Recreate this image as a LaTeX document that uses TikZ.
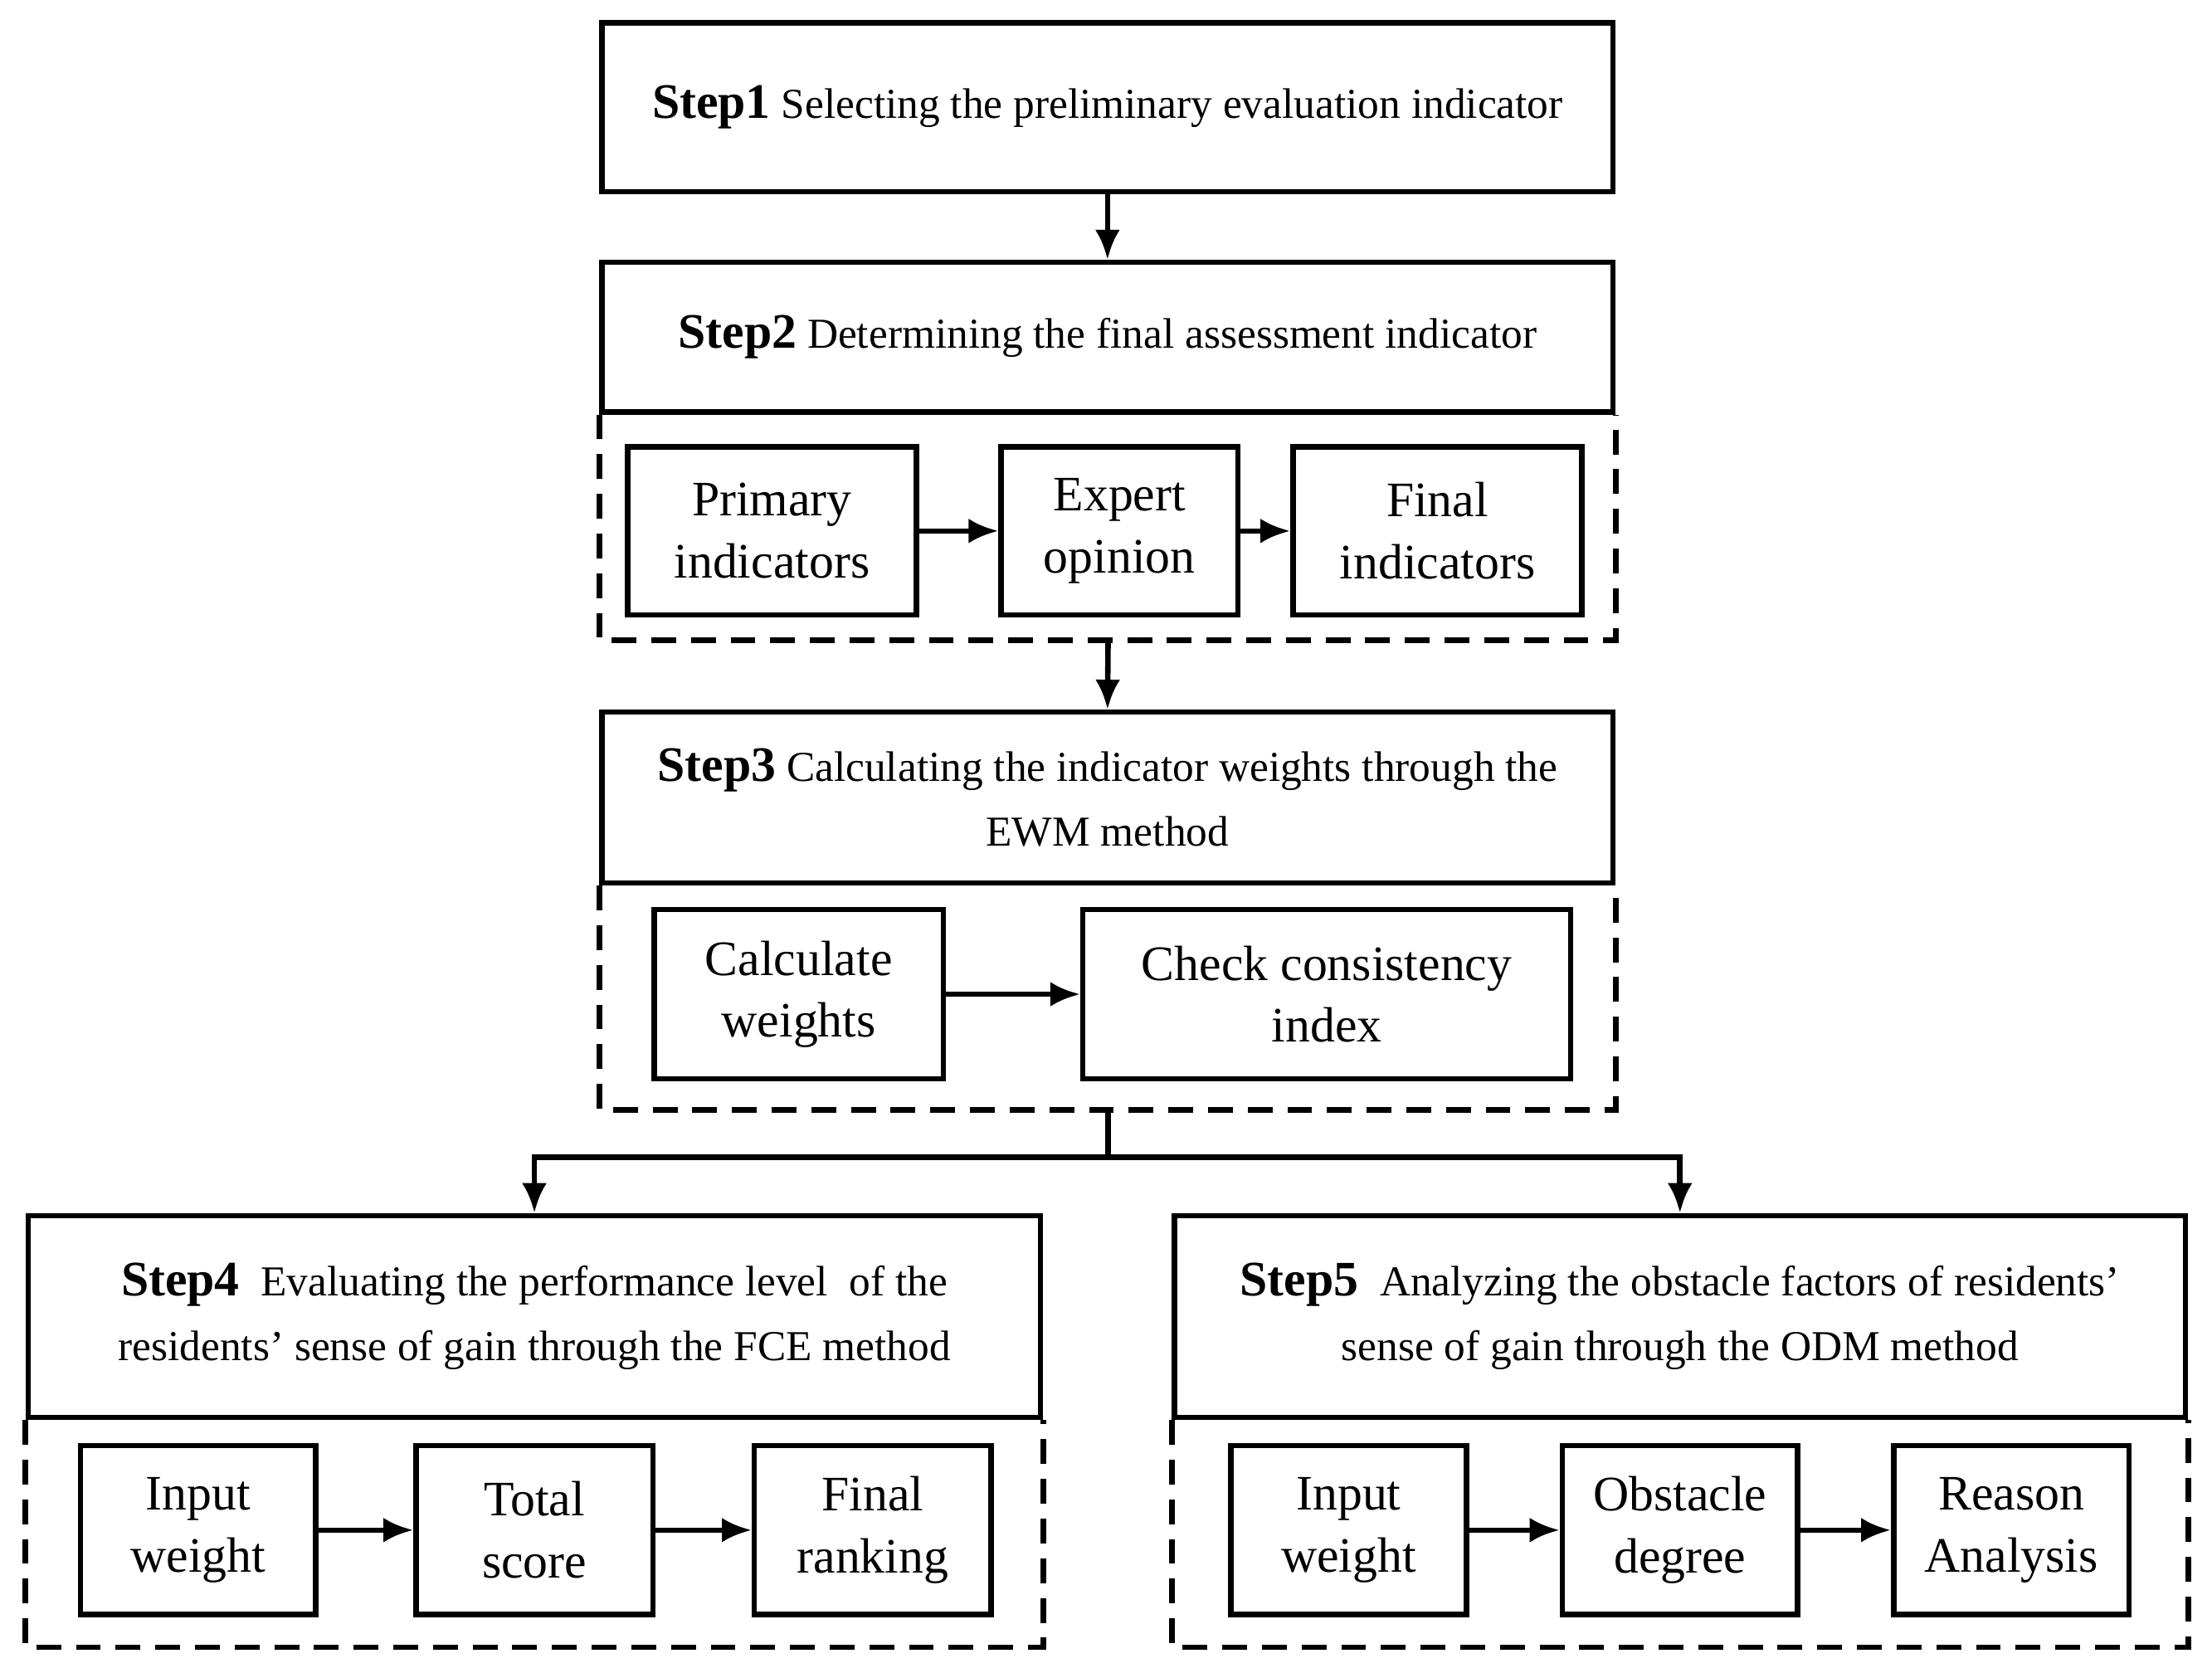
\documentclass[tikz,border=0pt]{standalone}
\usepackage{fontspec}
\setmainfont{Liberation Serif}
\usetikzlibrary{arrows.meta,positioning,calc}

\tikzset{
  head/.style={draw,line width=1.1pt,inner sep=0pt,align=center,
               font=\fontsize{8.6}{13}\selectfont},
  item/.style={draw,line width=1.1pt,inner sep=0pt,align=center,
               font=\fontsize{10}{12.5}\selectfont},
  frame/.style={line width=1.1pt,dash pattern=on 5pt off 3pt},
  link/.style={-{Latex[length=6pt,width=5pt]},line width=1.1pt}
}
% box at corners (x1,y1) to (x2,y2)
\newcommand{\stepbox}[6][head]{%
  \node[#1,minimum width={(#4-#2)*0.01cm},minimum height={(#5-#3)*0.01cm}]
    (#6) at ({(#2+#4)/2*0.01},{-(#3+#5)/2*0.01}) }

\begin{document}
\begin{tikzpicture}
\useasboundingbox (0,0) rectangle (15.68,-11.82);
%
\stepbox{427}{16}{1144}{136}{s1} {\textbf{\fontsize{10}{13}\selectfont Step1}\ Selecting the preliminary evaluation indicator};
%
\stepbox{427}{186}{1144}{292}{s2} {\textbf{\fontsize{10}{13}\selectfont Step2}\ Determining the final assessment indicator};
\draw[frame] (s2.south west) -- ++(0,-1.6) -| (s2.south east);
\stepbox[item]{445}{317}{650}{436}{pri} {Primary\\indicators};
\stepbox[item]{710}{317}{878}{436}{exp} {Expert\\opinion};
\stepbox[item]{917}{317}{1122}{436}{fin} {Final\\indicators};
\draw[link] (pri) -- (exp);
\draw[link] (exp) -- (fin);
%
\stepbox{427}{505}{1144}{626}{s3} {\textbf{\fontsize{10}{13}\selectfont Step3}\ Calculating the indicator weights through the\\EWM method};
\draw[frame] (s3.south west) -- ++(0,-1.59) -| (s3.south east);
\stepbox[item]{464}{645}{669}{765}{cal} {Calculate\\weights};
\stepbox[item]{768}{645}{1114}{765}{chk} {Check consistency\\index};
\draw[link] (cal) -- (chk);
%
\stepbox{20}{862}{738}{1005}{s4} {\textbf{\fontsize{10}{13}\selectfont Step4}\ \ Evaluating the performance level \ of the\\residents' sense of gain through the FCE method};
\draw[frame] (s4.south west) -- ++(0,-1.61) -| (s4.south east);
\stepbox[item]{57}{1025}{224}{1145}{inA} {Input\\weight};
\stepbox[item]{295}{1025}{463}{1145}{tot} {Total\\score};
\stepbox[item]{535}{1025}{703}{1145}{rnk} {Final\\ranking};
\draw[link] (inA) -- (tot);
\draw[link] (tot) -- (rnk);
%
\stepbox{833}{862}{1550}{1005}{s5} {\textbf{\fontsize{10}{13}\selectfont Step5}\ \ Analyzing the obstacle factors of residents'\\sense of gain through the ODM method};
\draw[frame] (s5.south west) -- ++(0,-1.61) -| (s5.south east);
\stepbox[item]{873}{1025}{1040}{1145}{inB} {Input\\weight};
\stepbox[item]{1108}{1025}{1275}{1145}{obs} {Obstacle\\degree};
\stepbox[item]{1343}{1025}{1510}{1145}{rea} {Reason\\Analysis};
\draw[link] (inB) -- (obs);
\draw[link] (obs) -- (rea);
%
\coordinate (b2) at (7.855,-4.52);
\coordinate (b3) at (7.855,-7.85);
\coordinate (fork) at (7.855,-8.20);
\draw[link] (s1.south) -- (s2.north);
\draw[link] (b2) -- (s3.north);
\draw[line width=1.1pt] (b3) -- (fork);
\draw[link] (fork) -| (s4.north);
\draw[link] (fork) -| (s5.north);
\end{tikzpicture}
\end{document}
